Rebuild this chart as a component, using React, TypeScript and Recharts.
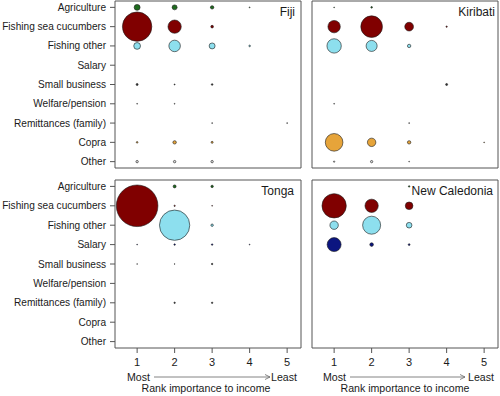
import { ScatterChart, Scatter, XAxis, YAxis, ZAxis, ReferenceArea } from "recharts"

const FONT = '"Liberation Sans", Arial, Helvetica, sans-serif'

const categories = [
  "Agriculture",
  "Fishing sea cucumbers",
  "Fishing other",
  "Salary",
  "Small business",
  "Welfare/pension",
  "Remittances (family)",
  "Copra",
  "Other",
]
const catColors = ["#1e6b1e", "#800000", "#8ddfee", "#0b1580", "#333333", "#999999", "#444444", "#e6a43a", "#dddddd"]
const ranks = [1, 2, 3, 4, 5]

// % of respondents per category (rows) and rank 1..5 (cols), bubble area ~ value
const fiji = [
  [2.0, 1.4, 0.65, 0.05, 0],
  [49, 10, 0.4, 0, 0],
  [2.6, 7.5, 2.0, 0.15, 0],
  [0, 0, 0, 0, 0],
  [0.23, 0.06, 0.15, 0, 0],
  [0.04, 0.04, 0, 0, 0],
  [0, 0, 0.04, 0, 0.04],
  [0.15, 0.65, 0.23, 0, 0],
  [0.33, 0.33, 0.33, 0, 0],
]
const kiribati = [
  [0.04, 0.15, 0, 0, 0],
  [8.7, 26.5, 4.3, 0.1, 0],
  [11.7, 6.9, 0.65, 0, 0],
  [0, 0, 0, 0, 0],
  [0, 0, 0, 0.23, 0],
  [0.04, 0, 0, 0, 0],
  [0, 0, 0.04, 0, 0],
  [17.6, 4.0, 0.65, 0, 0.04],
  [0.1, 0.3, 0.04, 0, 0],
]
const tonga = [
  [0, 0.5, 0.33, 0, 0],
  [98, 0.1, 0.04, 0, 0],
  [0, 52, 0.33, 0, 0],
  [0.04, 0.12, 0.12, 0.04, 0],
  [0.03, 0.03, 0.12, 0, 0],
  [0, 0, 0, 0, 0],
  [0, 0.12, 0.12, 0, 0],
  [0, 0, 0, 0, 0],
  [0, 0, 0, 0, 0],
]
const newCaledonia = [
  [0, 0, 0.12, 0, 0],
  [33.5, 10, 3.3, 0, 0],
  [4.0, 18.4, 1.8, 0, 0],
  [11.1, 0.73, 0.18, 0, 0],
  [0, 0, 0, 0, 0],
  [0, 0, 0, 0, 0],
  [0, 0, 0, 0, 0],
  [0, 0, 0, 0, 0],
  [0, 0, 0, 0, 0],
]

const X_DOMAIN: [number, number] = [0.41, 5.37]
const Y_DOMAIN: [number, number] = [-0.33, 8.33]
const MAX_R = 21
const PLOT_W = 186

function toPoints(values: number[][], ci: number) {
  return ranks
    .map((rank, ri) => ({ rank, cat: ci, v: values[ci][ri] }))
    .filter((p) => p.v > 0)
}

// no wrapping for the long category names
function CatTick(props: any) {
  const { x, y, payload } = props
  return (
    <text x={x} y={y} dy="0.35em" textAnchor="end" fontSize={10.1} fontFamily={FONT} fill="#1a1a1a">
      {categories[payload.value]}
    </text>
  )
}

interface PanelProps {
  values: number[][]
  left: number
  top: number
  marginTop: number
  plotH: number
  showLabels: boolean
  showNumbers: boolean
}

function Panel({ values, left, top, marginTop, plotH, showLabels, showNumbers }: PanelProps) {
  const yW = showLabels ? 115 : 62
  const xH = showNumbers ? 22 : 8
  const width = yW + PLOT_W + 2
  const height = marginTop + plotH + xH
  return (
    <div style={{ position: "absolute", left, top }}>
      <ScatterChart width={width} height={height} margin={{ top: marginTop, right: 2, bottom: 0, left: 0 }}>
        <XAxis
          type="number"
          dataKey="rank"
          domain={X_DOMAIN}
          allowDataOverflow
          ticks={ranks}
          interval={0}
          height={xH}
          tickSize={5}
          tickMargin={5}
          axisLine={false}
          tickLine={{ stroke: "#555" }}
          tick={showNumbers ? { fontSize: 11, fill: "#1a1a1a", fontFamily: FONT } : false}
        />
        <YAxis
          type="number"
          dataKey="cat"
          domain={Y_DOMAIN}
          allowDataOverflow
          reversed
          ticks={categories.map((_, i) => i)}
          interval={0}
          width={yW}
          tickSize={5}
          tickMargin={4}
          axisLine={false}
          tickLine={{ stroke: "#555" }}
          tick={showLabels ? <CatTick /> : false}
        />
        <ZAxis type="number" dataKey="v" domain={[0, 100]} range={[0, Math.PI * MAX_R * MAX_R]} />
        <ReferenceArea
          x1={X_DOMAIN[0]}
          x2={X_DOMAIN[1]}
          y1={Y_DOMAIN[0]}
          y2={Y_DOMAIN[1]}
          fill="none"
          stroke="#555"
          strokeWidth={1}
          ifOverflow="visible"
        />
        {categories.map((c, ci) => (
          <Scatter
            key={c}
            name={c}
            data={toPoints(values, ci)}
            fill={catColors[ci]}
            stroke="#1a1a1a"
            strokeWidth={0.6}
            isAnimationActive={false}
          />
        ))}
      </ScatterChart>
    </div>
  )
}

function RankCaption({ most, lineFrom, lineTo, least, center }: { most: number; lineFrom: number; lineTo: number; least: number; center: number }) {
  return (
    <g fontFamily={FONT} fontSize={10.6} fill="#1a1a1a">
      <text x={most} y={381}>Most</text>
      <line x1={lineFrom} y1={377} x2={lineTo} y2={377} stroke="#666" strokeWidth={0.8} />
      <path d={`M${lineTo - 5},${374.5} L${lineTo},377 L${lineTo - 5},${379.5}`} fill="none" stroke="#666" strokeWidth={0.8} />
      <text x={least} y={381} textAnchor="end">Least</text>
      <text x={center} y={392} textAnchor="middle">Rank importance to income</text>
    </g>
  )
}

export default function App() {
  return (
    <div style={{ position: "absolute", left: 0, top: 0, width: 500, height: 396, background: "#fff", overflow: "hidden" }}>
      <Panel values={fiji} left={0} top={0} marginTop={1} plotH={167} showLabels showNumbers={false} />
      <Panel values={kiribati} left={250} top={0} marginTop={1} plotH={167} showLabels={false} showNumbers={false} />
      <Panel values={tonga} left={0} top={170} marginTop={10} plotH={168} showLabels showNumbers />
      <Panel values={newCaledonia} left={250} top={170} marginTop={10} plotH={168} showLabels={false} showNumbers />
      <svg width={500} height={396} style={{ position: "absolute", left: 0, top: 0, pointerEvents: "none" }}>
        <g fontFamily={FONT} fontSize={12} fill="#1a1a1a" textAnchor="end">
          <text x={295} y={16}>Fiji</text>
          <text x={495} y={16}>Kiribati</text>
          <text x={294} y={195}>Tonga</text>
          <text x={493} y={195}>New Caledonia</text>
        </g>
        <RankCaption most={127} lineFrom={154} lineTo={270} least={297} center={206} />
        <RankCaption most={323} lineFrom={350} lineTo={465} least={494} center={405} />
      </svg>
    </div>
  )
}
